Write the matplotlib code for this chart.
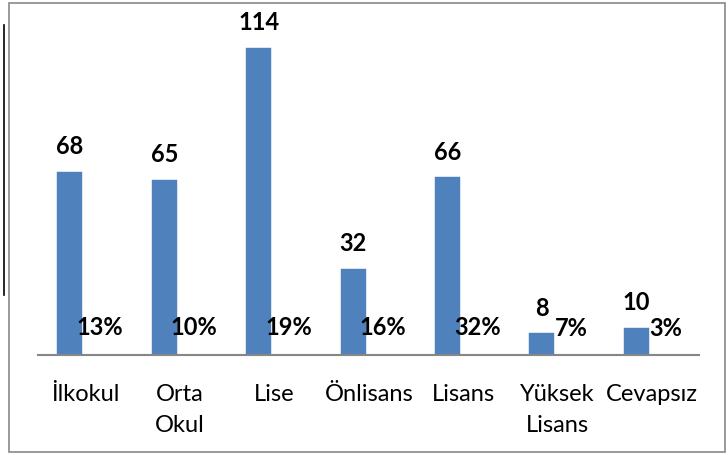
import matplotlib
matplotlib.use("Agg")
import matplotlib.pyplot as plt
from matplotlib.lines import Line2D
from matplotlib.patches import Rectangle
import numpy as np

categories = ["İlkokul", "Orta\nOkul", "Lise", "Önlisans", "Lisans", "Yüksek\nLisans", "Cevapsız"]
counts = [68, 65, 114, 32, 66, 8, 10]
percents = [0.13, 0.10, 0.19, 0.16, 0.32, 0.07, 0.03]
pct_labels = ["13%", "10%", "19%", "16%", "32%", "7%", "3%"]

plt.rcParams['font.family'] = ['Lato', 'DejaVu Sans']

W, H = 728, 455
fig = plt.figure(figsize=(W / 100, H / 100), dpi=100)
ax = fig.add_axes([38.3 / W, (H - 355) / H, (699.3 - 38.3) / W, (355 - 32.2) / H])

x = np.arange(len(categories))
bw = 0.265
ax.bar(x - 0.166, counts, width=bw, color="#4F81BD", edgecolor="#4F81BD", linewidth=0.3)
ax.bar(x + 0.169, percents, width=bw, color="#C0504D", linewidth=0)

for xi, v in zip(x - 0.166, counts):
    ax.annotate(str(v), (xi, v), xytext=(0, 10), textcoords="offset points",
                ha="center", va="bottom", fontsize=17, fontweight="bold", color="black")
for xi, v, lab in zip(x + 0.169, percents, pct_labels):
    ax.annotate(lab, (xi - 0.02, v), xytext=(0, 11), textcoords="offset points",
                ha="center", va="bottom", fontsize=17, fontweight="bold", color="black")

ax.set_xlim(-0.5, len(categories) - 0.5)
ax.set_ylim(0, 120)
ax.set_xticks(x)
ax.set_xticklabels(categories, fontsize=17, linespacing=1.6)
ax.tick_params(axis="x", length=0, pad=21)
ax.set_yticks([])
for s in ["top", "right", "left"]:
    ax.spines[s].set_visible(False)
ax.spines["bottom"].set_color("#868686")
ax.spines["bottom"].set_linewidth(1.5)

# outer chart border
fig.patches.append(Rectangle((8.5 / W, 3 / H), (725 - 8.5) / W, (452 - 3) / H,
                             transform=fig.transFigure, fill=False,
                             edgecolor="#898989", linewidth=1.2))
# stray black line on left edge
fig.lines.append(Line2D([3.5 / W, 3.5 / W], [(H - 295) / H, (H - 25) / H],
                        transform=fig.transFigure, color="black", linewidth=1.2))

fig.savefig("out.png", dpi=100)
